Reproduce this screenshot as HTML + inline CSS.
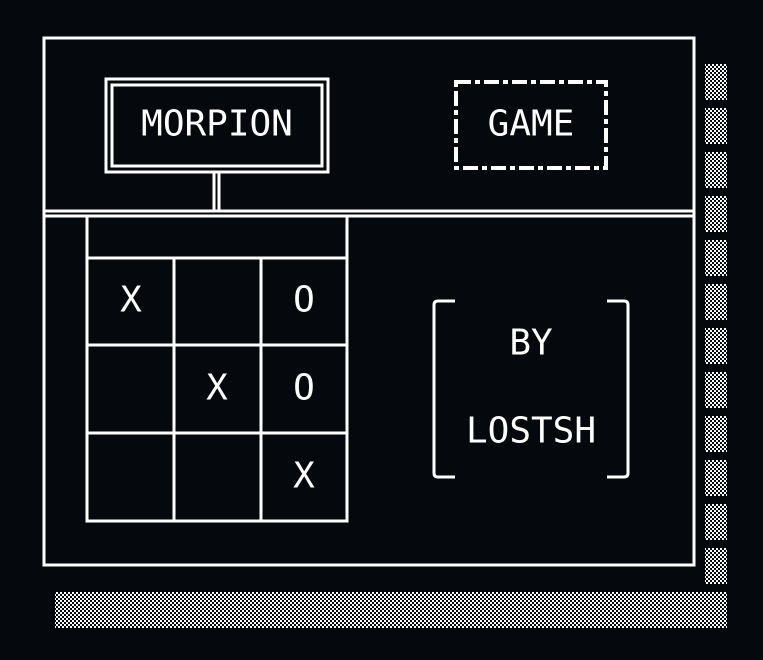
<!DOCTYPE html>
<html><head><meta charset="utf-8"><style>
html,body{margin:0;padding:0;background:#05080d;}
svg{display:block}
text{font-family:"DejaVu Sans Mono","Liberation Mono",monospace;font-size:36px;fill:#fff;text-anchor:middle;dominant-baseline:central}
</style></head><body>
<svg width="763" height="660" viewBox="0 0 763 660" xmlns="http://www.w3.org/2000/svg">
<defs>
<pattern id="ck" width="4" height="4" patternUnits="userSpaceOnUse">
<rect width="4" height="4" fill="#05080d"/>
<rect width="2" height="2" fill="#fff"/><rect x="2" y="2" width="2" height="2" fill="#fff"/>
</pattern>
</defs>
<rect width="763" height="660" fill="#05080d"/>
<g fill="url(#ck)">
<rect x="705" y="64" width="22" height="36"/>
<rect x="705" y="108" width="22" height="36"/>
<rect x="705" y="152" width="22" height="36"/>
<rect x="705" y="196" width="22" height="36"/>
<rect x="705" y="240" width="22" height="36"/>
<rect x="705" y="284" width="22" height="36"/>
<rect x="705" y="328" width="22" height="36"/>
<rect x="705" y="372" width="22" height="36"/>
<rect x="705" y="416" width="22" height="36"/>
<rect x="705" y="460" width="22" height="36"/>
<rect x="705" y="504" width="22" height="36"/>
<rect x="705" y="548" width="22" height="36"/>
<rect x="55" y="592" width="672" height="36"/>
</g>
<g fill="none" stroke="#fff" stroke-width="3">
<rect x="44" y="38" width="650" height="527"/>
<line x1="44" y1="211" x2="694" y2="211"/>
<line x1="44" y1="216" x2="694" y2="216"/>
<rect x="106" y="79" width="222" height="93"/>
<rect x="112" y="85" width="210" height="81"/>
<line x1="214" y1="172" x2="214" y2="211"/>
<line x1="219" y1="172" x2="219" y2="211"/>
<rect x="87" y="216" width="260" height="305"/>
<line x1="87" y1="258" x2="347" y2="258"/>
<line x1="87" y1="345" x2="347" y2="345"/>
<line x1="87" y1="433" x2="347" y2="433"/>
<line x1="174" y1="258" x2="174" y2="521"/>
<line x1="261" y1="258" x2="261" y2="521"/>
<path d="M455 301 H438 Q434 301 434 305 V473 Q434 477 438 477 H455"/>
<path d="M607 301 H624 Q628 301 628 305 V473 Q628 477 624 477 H607"/>
</g>
<rect x="456" y="82" width="150" height="86" fill="none" stroke="#fff" stroke-width="4" stroke-dasharray="15,4,5,4"/>
<text x="217" y="124">MORPION</text>
<text x="531" y="124">GAME</text>
<text x="131" y="300">X</text>
<text x="304" y="300">O</text>
<text x="217" y="388">X</text>
<text x="304" y="388">O</text>
<text x="304" y="476">X</text>
<text x="531" y="343">BY</text>
<text x="531" y="431">LOSTSH</text>
</svg>
</body></html>
